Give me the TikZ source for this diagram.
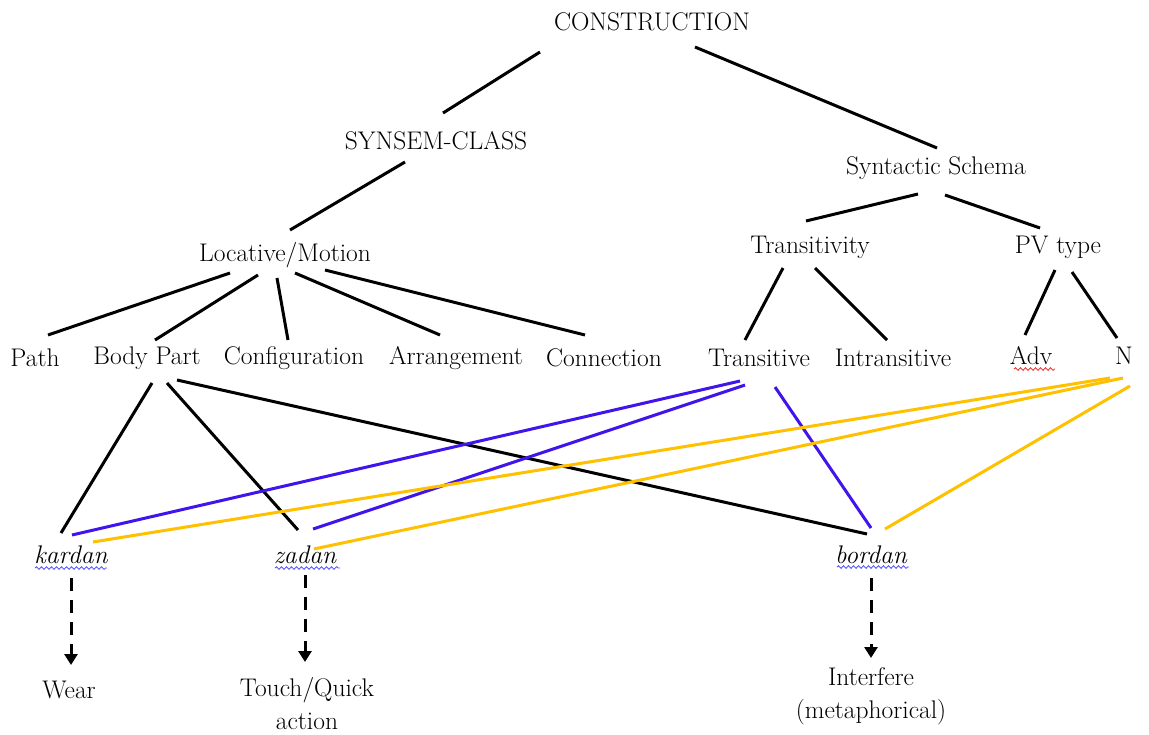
\documentclass[tikz,border=0pt]{standalone}
\usepackage{tikz}
\usetikzlibrary{arrows.meta, calc, positioning, decorations.pathmorphing}

\definecolor{transblue}{RGB}{64,20,235}
\definecolor{ngold}{RGB}{255,192,0}
\definecolor{spellblue}{RGB}{90,90,255}
\definecolor{spellred}{RGB}{235,60,60}

\tikzset{
lbl/.style={font=\fontsize{25.5}{33}\selectfont, inner sep=0pt, align=center},
verb/.style={lbl, font=\fontsize{25.5}{33}\selectfont\itshape},
tree/.style={line width=3pt, black},
trline/.style={line width=3pt, transblue},
nline/.style={line width=3pt, ngold},
sense/.style={line width=3pt, dash pattern=on 13pt off 9pt, -{Triangle[width=13pt,length=11pt]}},
squig/.style={line width=0.9pt, decorate, decoration={snake, amplitude=1.3pt, segment length=5pt}}
}

\begin{document}
\begin{tikzpicture}[x=1pt,y=-1pt]
\useasboundingbox (0,0) rectangle (1149,734);

% upper levels
\node[lbl] (root) at (652,22) {CONSTRUCTION};
\node[lbl] (synsem) at (436,141) {SYNSEM-CLASS};
\node[lbl] (schema) at (936,168) {Syntactic Schema};
\node[lbl] (locmot) at (285,255) {Locative/Motion};
\node[lbl] (transty) at (810,247) {Transitivity};
\node[lbl] (pvtype) at (1058,247) {PV type};

% leaves
\node[lbl] (path) at (35,358) {Path};
\node[lbl] (bodypart) at (147,358) {Body Part};
\node[lbl] (config) at (294,358) {Configuration};
\node[lbl] (arrange) at (456,358) {Arrangement};
\node[lbl] (connect) at (604,358) {Connection};
\node[lbl] (trans) at (759,358) {Transitive};
\node[lbl] (intrans) at (893,358) {Intransitive};
\node[lbl] (adv) at (1031,356) {Adv};
\node[lbl] (nn) at (1124,356) {N};

% verbs and senses
\node[verb] (kardan) at (71,555) {kardan};
\node[verb] (zadan) at (305,555) {zadan};
\node[verb] (bordan) at (871,555) {bordan};
\node[lbl] (wear) at (69,690) {Wear};
\node[lbl] (touch) at (307,704) {Touch/Quick\\action};
\node[lbl] (interfere) at (871,696) {Interfere\\(metaphorical)};

% black edges
\foreach \a/\ax/\ay/\b/\bx/\by in {
root/-112/30/synsem/7/-28, root/43/25/schema/1/-20,
synsem/-31/21/locmot/5/-25,
schema/-18/26/transty/-4/-26, schema/9/27/pvtype/-18/-19,
locmot/-55/18/path/13/-23, locmot/-27/20/bodypart/8/-18,
locmot/-8/23/config/-6/-18, locmot/10/18/arrange/-16/-23,
locmot/40/15/connect/-19/-23,
transty/-27/21/trans/-14/-18, transty/5/21/intrans/-6/-18,
pvtype/-3/23/adv/-6/-21, pvtype/14/25/nn/-7/-18,
bodypart/5/25/kardan/-10/-22, bodypart/20/25/zadan/-7/-25,
bodypart/30/22/bordan/-4/-21}
\draw[tree] ($(\a)+(\ax,\ay)$) -- ($(\b)+(\bx,\by)$);

% transitive links
\foreach \b/\ax/\ay/\bx/\by in {kardan/-19/23/1/-20, zadan/-14/27/8/-26, bordan/16/29/0/-27}
\draw[trline] ($(trans)+(\ax,\ay)$) -- ($(\b)+(\bx,\by)$);

% N links
\foreach \b/\ax/\ay/\bx/\by in {kardan/-14/22/22/-13, zadan/-1/22/9/-6, bordan/6/30/14/-26}
\draw[nline] ($(nn)+(\ax,\ay)$) -- ($(\b)+(\bx,\by)$);

% senses
\draw[sense] ($(kardan)+(0,23)$) -- ($(wear)+(2,-25)$);
\draw[sense] ($(zadan)+(0,20)$) -- ($(touch)+(-2,-42)$);
\draw[sense] ($(bordan)+(0,23)$) -- ($(interfere)+(0,-38)$);

% spelling marks
\foreach \a/\ax/\bx/\y in {kardan/-36/36/13, zadan/-30/35/13, bordan/-34/38/12}
\draw[squig, spellblue] ($(\a)+(\ax,\y)$) -- ($(\a)+(\bx,\y)$);
\draw[squig, spellred] ($(adv)+(-17,13)$) -- ($(adv)+(24,13)$);
\end{tikzpicture}
\end{document}
